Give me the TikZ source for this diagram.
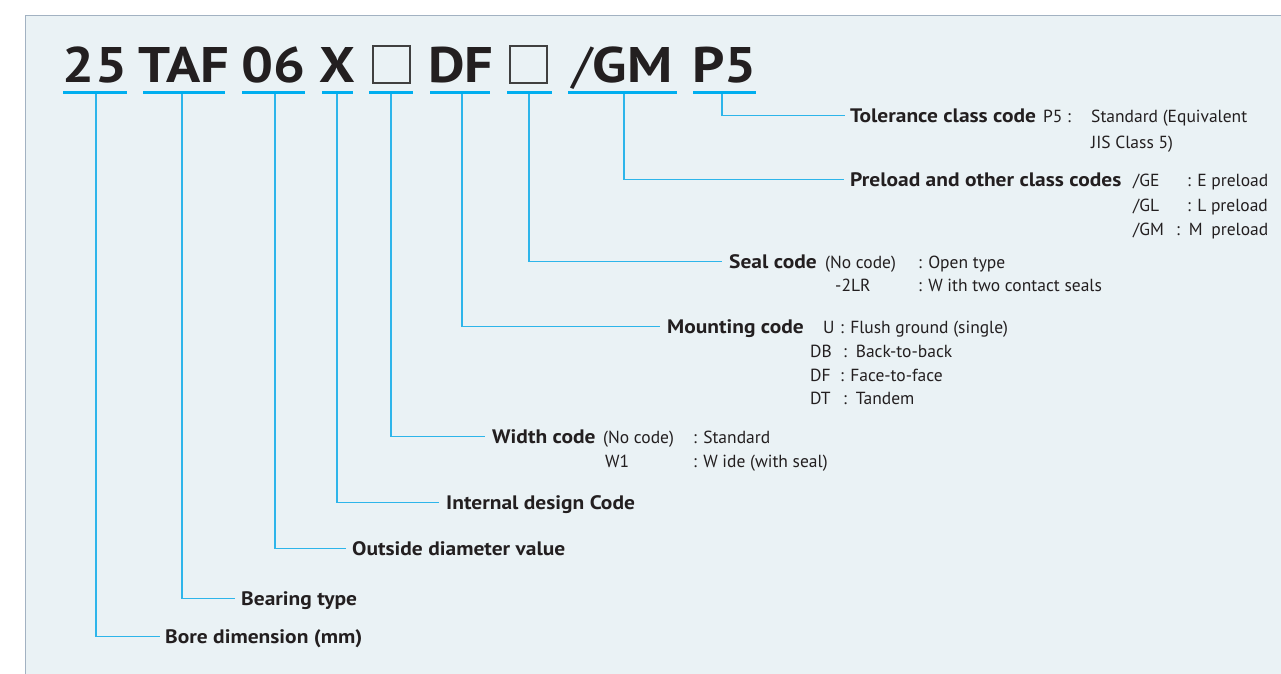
\documentclass[tikz,border=0pt]{standalone}
\usepackage{fontspec}
\setmainfont{PT Sans}
\newfontfamily\lblfont[FakeStretch=1.1]{PT Sans}
\newfontfamily\ttlfont[FakeStretch=1.13]{PT Sans}
\definecolor{cy}{HTML}{00AEEF}
\definecolor{cyl}{HTML}{2DB5EA}
\definecolor{ink}{HTML}{231F20}
\definecolor{panelbg}{HTML}{EAF2F5}
\definecolor{panelline}{HTML}{A2B2C2}
\definecolor{boxgray}{HTML}{404040}
\begin{document}
\begin{tikzpicture}[x=1pt,y=-1pt,
  ttl/.style={font=\fontsize{50}{50}\ttlfont\bfseries, text=ink, inner sep=0pt, anchor=base},
  ubar/.style={fill=cy, minimum height=3.6pt, inner sep=0pt, anchor=center},
  sq/.style={draw=boxgray, line width=1.8pt, minimum size=37pt, inner sep=0pt},
  lab/.style={font=\fontsize{19.5}{20}\lblfont\bfseries, text=ink, inner sep=0pt, anchor=base west, text height=13pt, text depth=0pt},
  txt/.style={font=\fontsize{17.5}{18}\selectfont, text=ink, inner sep=0pt, anchor=base west},
  conn/.style={draw=cyl, line width=1.5pt},
]
\useasboundingbox (0,0) rectangle (1281,673);
\fill[white] (0,0) rectangle (1281,673);
\begin{scope}
  \clip (0,0) rectangle (1281,673);
  \draw[panelline, fill=panelbg, line width=1.6pt] (25.5,15.3) rectangle (1300,700);
\end{scope}

% title parts
\node[ttl] (c1) at (95,82) {25};
\node[ttl] (c2) at (184,82) {TAF};
\node[ttl] (c3) at (273.5,82) {06};
\node[ttl] (c4) at (337,82) {X};
\node[sq]  (c5) at (391.2,64.5) {};
\node[ttl] (c6) at (461,82) {DF};
\node[sq]  (c7) at (528.5,64.3) {};
\node[ttl] (c8) at (622.5,82) {\mdseries/\bfseries GM};
\node[ttl] (c9) at (724.5,82) {P5};

% underlines
\node[ubar, minimum width=64pt] (u1) at (95,92.3) {};
\node[ubar, minimum width=82pt] (u2) at (184,92.3) {};
\node[ubar, minimum width=63pt] (u3) at (273.5,92.3) {};
\node[ubar, minimum width=31pt] (u4) at (337,92.3) {};
\node[ubar, minimum width=44pt] (u5) at (391,92.3) {};
\node[ubar, minimum width=60pt] (u6) at (460,92.3) {};
\node[ubar, minimum width=45pt] (u7) at (529.5,92.3) {};
\node[ubar, minimum width=109pt] (u8) at (622.5,92.3) {};
\node[ubar, minimum width=63pt] (u9) at (724.5,92.3) {};

% labels
\node[lab] (tol)  at (850,122) {Tolerance class code};
\node[lab] (pre)  at (850,186) {Preload and other class codes};
\node[lab] (seal) at (729,268) {Seal code};
\node[lab] (mnt)  at (667,333) {Mounting code};
\node[lab] (wid)  at (492,443) {Width code};
\node[lab] (idc)  at (446,509) {Internal design Code};
\node[lab] (odv)  at (352,555) {Outside diameter value};
\node[lab] (brt)  at (241,605) {Bearing type};
\node[lab] (bore) at (165,643) {Bore dimension (mm)};

% connectors
\draw[conn] ([xshift=1pt]u1.south)    |- ([xshift=-5pt]bore.west);
\draw[conn] ([xshift=-2pt]u2.south)   |- ([xshift=-6pt]brt.west);
\draw[conn] ([xshift=1.5pt]u3.south)  |- ([xshift=-6pt]odv.west);
\draw[conn] (u4.south)                |- ([xshift=-7pt]idc.west);
\draw[conn] (u5.south)                |- ([xshift=-7pt]wid.west);
\draw[conn] ([xshift=2pt]u6.south)    |- ([xshift=-7pt]mnt.west);
\draw[conn] ([xshift=-0.5pt]u7.south) |- ([xshift=-7pt]seal.west);
\draw[conn] ([xshift=1.5pt]u8.south)  |- ([xshift=-6pt]pre.west);
\draw[conn] ([xshift=-2.5pt]u9.south) |- ([xshift=-5pt]tol.west);

% tolerance details
\node[txt] (tolc)  at (1043,122) {P5 :};
\node[txt] (told1) at (1091,122) {Standard (Equivalent};
\node[txt] (told2) at (1091,148) {JIS Class 5)};

% preload details
\node[txt] (pre1c) at (1133,186) {/GE};
\node[txt] (pre1d) at (1187,186) {: E preload};
\node[txt] (pre2c) at (1133,211) {/GL};
\node[txt] (pre2d) at (1187,211) {: L preload};
\node[txt] (pre3c) at (1133,235) {/GM};
\node[txt] (pre3d) at (1176,235) {:\enspace M\enspace preload};

% seal details
\node[txt] (seal1c) at (825,268) {(No code)};
\node[txt] (seal1d) at (918,268) {: Open type};
\node[txt] (seal2c) at (835,291) {-2LR};
\node[txt] (seal2d) at (918,291) {: W ith two contact seals};

% mounting details
\node[txt] (m1c) at (823,333) {U};
\node[txt] (m1d) at (840,333) {: Flush ground (single)};
\node[txt] (m2c) at (810,357) {DB};
\node[txt] (m2d) at (843,357) {:\enspace Back-to-back};
\node[txt] (m3c) at (810,381) {DF};
\node[txt] (m3d) at (840,381) {: Face-to-face};
\node[txt] (m4c) at (810,404) {DT};
\node[txt] (m4d) at (843,404) {:\enspace Tandem};

% width details
\node[txt] (w1c) at (603,443) {(No code)};
\node[txt] (w1d) at (693,443) {: Standard};
\node[txt] (w2c) at (605,467) {W1};
\node[txt] (w2d) at (693,467) {: W ide (with seal)};
\end{tikzpicture}
\end{document}
